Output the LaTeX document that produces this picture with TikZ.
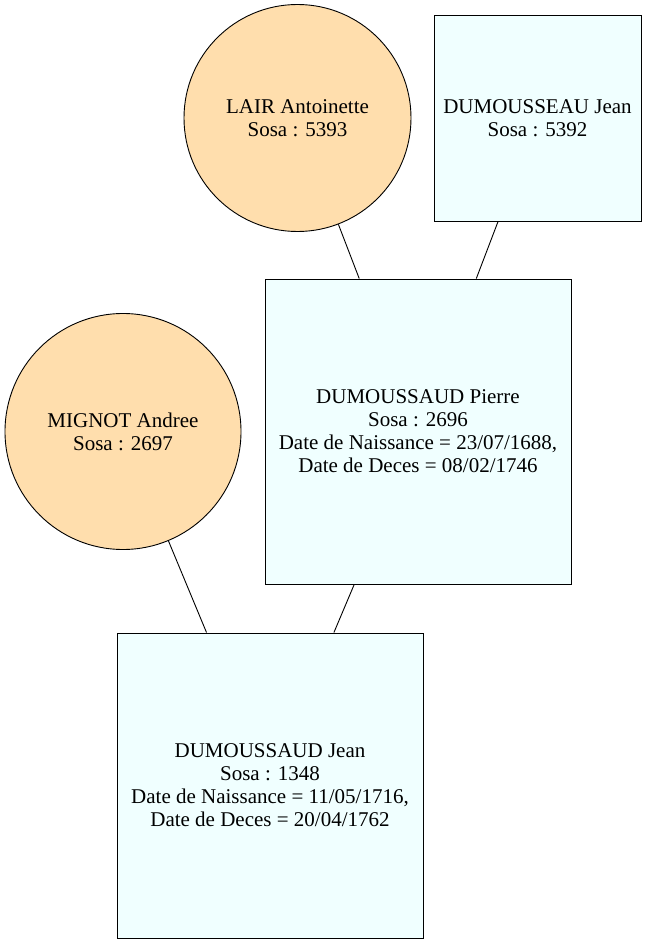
\documentclass[tikz,border=0pt]{standalone}
\usepackage{fontspec}
\setmainfont{Liberation Serif}
\definecolor{womanfill}{HTML}{FFDEAD}
\definecolor{manfill}{HTML}{F0FFFF}
\begin{document}
\begin{tikzpicture}[x=1pt,y=-1pt,
  every node/.style={font=\fontsize{21}{23}\selectfont, align=center, inner sep=0pt, draw=black, line width=0.9pt},
  woman/.style={circle, fill=womanfill},
  man/.style={rectangle, fill=manfill},
  link/.style={draw=black, line width=0.9pt}]
\useasboundingbox (0,0) rectangle (646,944);
\node[woman, minimum size=227pt] (lair) at (297.5,118) {LAIR Antoinette\\Sosa : 5393};
\node[man, minimum width=207pt, minimum height=206pt] (dumousseau) at (537.5,118) {DUMOUSSEAU Jean\\Sosa : 5392};
\node[man, minimum width=306pt, minimum height=305pt] (pierre) at (418,431.5) {DUMOUSSAUD Pierre\\Sosa : 2696\\Date de Naissance = 23/07/1688,\\Date de Deces = 08/02/1746};
\node[woman, minimum size=236pt] (mignot) at (123,431.5) {MIGNOT Andree\\Sosa : 2697};
\node[man, minimum width=306pt, minimum height=305pt] (jean) at (270,785.5) {DUMOUSSAUD Jean\\Sosa : 1348\\Date de Naissance = 11/05/1716,\\Date de Deces = 20/04/1762};
\draw[link] (lair) -- (pierre);
\draw[link] (dumousseau) -- (pierre);
\draw[link] (mignot) -- (jean);
\draw[link] (pierre) -- (jean);
\end{tikzpicture}
\end{document}
